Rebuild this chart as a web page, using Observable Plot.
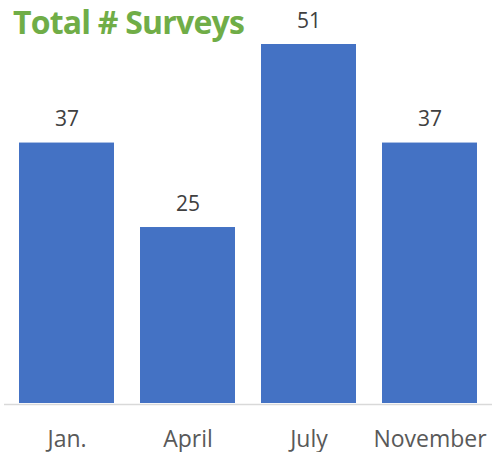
<!DOCTYPE html>
<html>
<head>
<meta charset="utf-8">
<script src="https://cdn.jsdelivr.net/npm/d3@7"></script>
<script src="https://cdn.jsdelivr.net/npm/@observablehq/plot@0.6"></script>
<style>
  html, body { margin: 0; padding: 0; background: #fff; }
  #wrap { position: relative; width: 492px; height: 452px; font-family: "Open Sans", sans-serif; }
  #title { position: absolute; left: 13px; top: 2px; font-family: "Open Sans", sans-serif; font-weight: 700; font-size: 32px; line-height: 40px; color: #70AD47; letter-spacing: -0.8px; white-space: nowrap; }
  #chart svg { display: block; overflow: visible; }
</style>
</head>
<body>
<div id="wrap">
  <div id="chart"></div>
  <div id="title"></div>
</div>
<script>
const title = "Total # Surveys";
const months = ["Jan.", "April", "July", "November"];
const surveys = [37, 25, 51, 37];

const data = months.map((m, i) => ({month: m, value: surveys[i]}));

const chart = Plot.plot({
  width: 492,
  height: 452,
  marginTop: 44,
  marginBottom: 49,
  marginLeft: 4,
  marginRight: 0,
  style: {fontFamily: "'Open Sans', sans-serif", color: "#595959", background: "#fff"},
  x: {domain: months, paddingInner: 0.213, paddingOuter: 0.1066, label: null},
  y: {domain: [0, 51], axis: null},
  marks: [
    Plot.barY(data, {x: "month", y: "value", fill: "#4472C4"}),
    Plot.ruleY([0], {stroke: "#d9d9d9", strokeWidth: 1.5, dy: 1}),
    Plot.text(data, {x: "month", y: "value", text: d => String(d.value), lineAnchor: "bottom", dy: -17, fontSize: 21, fill: "#404040"}),
    Plot.axisX({tickSize: 0, tickPadding: 27, fontSize: 23, fill: "#595959", label: null})
  ]
});
document.getElementById("chart").appendChild(chart);
document.getElementById("title").textContent = title;
</script>
</body>
</html>
